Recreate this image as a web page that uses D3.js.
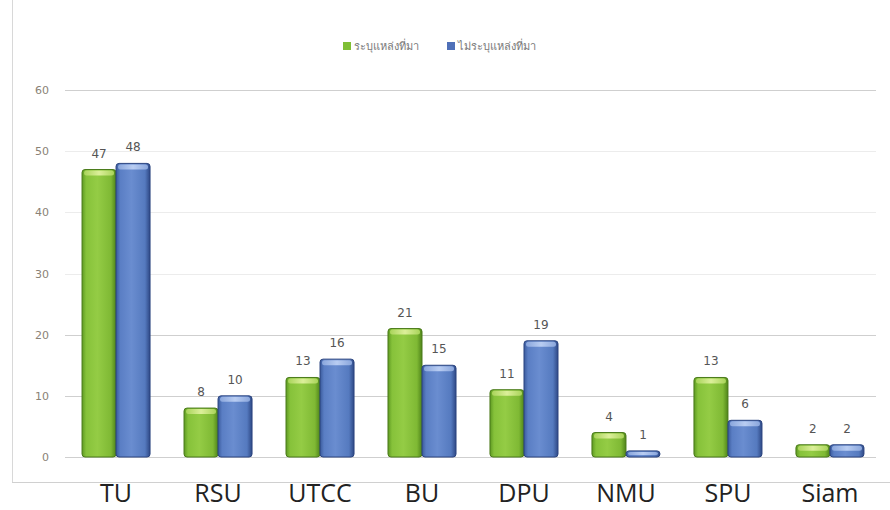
<!DOCTYPE html>
<html><head><meta charset="utf-8">
<script src="https://cdn.jsdelivr.net/npm/d3@7"></script>
<style>body{margin:0;background:#fff}svg{display:block}</style>
</head><body>
<svg id="c" width="890" height="510"></svg>
<script>
const categories = ["TU","RSU","UTCC","BU","DPU","NMU","SPU","Siam"];
const seriesNames = ["ระบุแหล่งที่มา","ไม่ระบุแหล่งที่มา"];
const greenValues = [47,8,13,21,11,4,13,2];
const blueValues = [48,10,16,15,19,1,6,2];
const yTicks = [0,10,20,30,40,50,60];

const svg = d3.select("#c");
const x = d3.scaleBand().domain(categories).range([65,881]).paddingInner(0.333).paddingOuter(0.167);
const x1 = d3.scaleBand().domain([0,1]).range([0,x.bandwidth()]);
const y = d3.scaleLinear().domain([0,60]).range([457,90]);

const defs = svg.append("defs");
function grad(id, stops){
  const g = defs.append("linearGradient").attr("id",id).attr("x1","0").attr("x2","1").attr("y1","0").attr("y2","0");
  stops.forEach(s=>g.append("stop").attr("offset",s[0]).attr("stop-color",s[1]));
}
grad("gG",[[0,"#5e9a22"],[0.12,"#86c23a"],[0.45,"#94cc45"],[0.85,"#7fb934"],[1,"#4f8419"]]);
grad("gB",[[0,"#3a5a9c"],[0.12,"#5a7ec4"],[0.45,"#6a8dd0"],[0.85,"#557abf"],[1,"#2e4885"]]);
grad("cG",[[0,"#a9d45a"],[0.5,"#dcef9a"],[1,"#a9d45a"]]);
grad("cB",[[0,"#8aa6dc"],[0.5,"#b9cdf2"],[1,"#8aa6dc"]]);

svg.append("line").attr("x1",12.5).attr("x2",12.5).attr("y1",0).attr("y2",482).attr("stroke","#d8d8d8");
svg.append("line").attr("x1",12).attr("x2",890).attr("y1",482.5).attr("y2",482.5).attr("stroke","#d0d0d0");

svg.append("g").selectAll("line").data(yTicks).join("line")
  .attr("x1",65).attr("x2",876).attr("y1",d=>Math.round(y(d))+0.5).attr("y2",d=>Math.round(y(d))+0.5)
  .attr("stroke",d=>(d===30||d===40||d===50)?"#ececec":"#cfcfcf");

svg.append("g").selectAll("text").data(yTicks).join("text")
  .attr("x",49).attr("y",d=>y(d)+4).attr("text-anchor","end")
  .attr("font-family","DejaVu Sans, sans-serif").attr("font-size",11).attr("fill","#8a8276")
  .text(d=>d);

const data = categories.map((c,i)=>({c, v:[greenValues[i],blueValues[i]]}));
const fills=["url(#gG)","url(#gB)"], caps=["url(#cG)","url(#cB)"], strokes=["#4a7a1a","#2c4580"];
const g = svg.append("g").selectAll("g").data(data).join("g").attr("transform",d=>`translate(${x(d.c)},0)`);
g.each(function(d){
  const gg=d3.select(this);
  d.v.forEach((v,k)=>{
    const bx=x1(k), bw=x1.bandwidth(), top=y(v), h=y(0)-y(v);
    gg.append("rect").attr("x",bx).attr("y",top).attr("width",bw).attr("height",h)
      .attr("rx",3).attr("fill",fills[k]).attr("stroke",strokes[k]).attr("stroke-width",1);
    const ch=Math.min(5,h/2);
    gg.append("rect").attr("x",bx+2).attr("y",top+1).attr("width",bw-4).attr("height",ch)
      .attr("rx",2.5).attr("fill",caps[k]);
    gg.append("text").attr("x",bx+bw/2).attr("y",top-12).attr("text-anchor","middle")
      .attr("font-family","DejaVu Sans, sans-serif").attr("font-size",12).attr("fill","#555")
      .text(v);
  });
});

svg.append("g").selectAll("text").data(categories).join("text")
  .attr("x",d=>x(d)+x.bandwidth()/2).attr("y",502).attr("text-anchor","middle")
  .attr("font-family","'Open Sans', sans-serif").attr("font-size",25).attr("fill","#222")
  .text(d=>d);

const lg = svg.append("g").attr("font-family","'Noto Sans', 'DejaVu Sans', sans-serif").attr("font-size",11).attr("fill","#7a7a7a");
const legendX=[343,447], legendCol=["#7fbf35","#4f70b8"];
seriesNames.forEach((n,i)=>{
  lg.append("rect").attr("x",legendX[i]).attr("y",42).attr("width",8).attr("height",8).attr("fill",legendCol[i]);
  lg.append("text").attr("x",legendX[i]+11).attr("y",50).text(n);
});
</script>
</body></html>
